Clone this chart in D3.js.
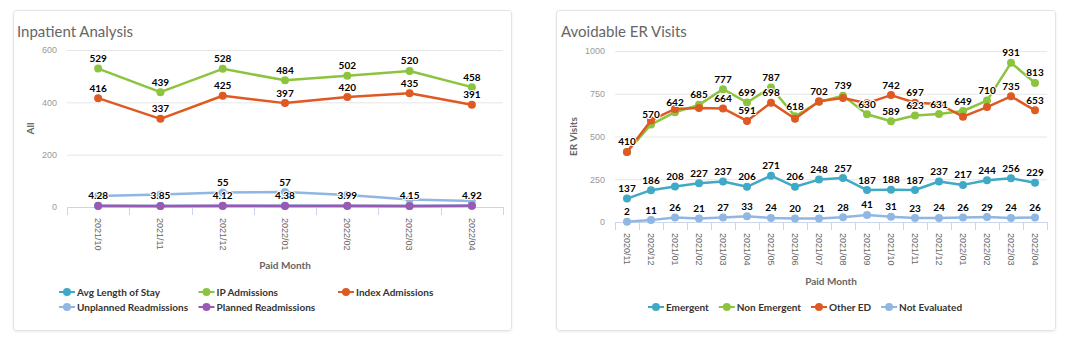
<!DOCTYPE html>
<html lang="en">
<head>
<meta charset="utf-8">
<title>Inpatient Analysis / Avoidable ER Visits</title>
<script src="https://cdnjs.cloudflare.com/ajax/libs/d3/7.8.5/d3.min.js"></script>
<style>
  body { margin: 0; background: #fff; }
  svg { display: block; font-family: "Lato", "Open Sans", sans-serif; }
  .title { font-size: 15px; fill: #666; }
  .tick text { font-size: 9px; fill: #999; }
  .tick text.xlab { font-size: 9px; fill: #666; }
  .axis-title { font-size: 10px; font-weight: bold; fill: #666; }
  .legend text { font-size: 10px; font-weight: bold; fill: #333; }
  .dl { font-size: 10px; font-weight: bold; fill: #000; stroke: #fff; stroke-width: 2px; paint-order: stroke; stroke-linejoin: round; }
</style>
</head>
<body>
<svg id="chart" width="1088" height="343"></svg>
<script>
// ---- Inpatient Analysis data ----
var ipMonths = ["2021/10", "2021/11", "2021/12", "2022/01", "2022/02", "2022/03", "2022/04"];
var avgLengthOfStay = [4.28, 3.85, 4.12, 4.38, 3.99, 4.15, 4.92];
var ipAdmissions = [529, 439, 528, 484, 502, 520, 458];
var indexAdmissions = [416, 337, 425, 397, 420, 435, 391];
var unplannedReadmissions = [42, 48, 55, 57, 46, 29, 23];
var plannedReadmissions = [5, 4, 5, 4, 5, 4, 5];
var ipTicks = [0, 200, 400, 600];

// ---- Avoidable ER Visits data ----
var erMonths = ["2020/11", "2020/12", "2021/01", "2021/02", "2021/03", "2021/04", "2021/05", "2021/06", "2021/07",
                "2021/08", "2021/09", "2021/10", "2021/11", "2021/12", "2022/01", "2022/02", "2022/03", "2022/04"];
var emergent = [137, 186, 208, 227, 237, 206, 271, 206, 248, 257, 187, 188, 187, 237, 217, 244, 256, 229];
var nonEmergent = [410, 570, 642, 685, 777, 699, 787, 618, 702, 739, 630, 589, 623, 631, 649, 710, 931, 813];
var otherED = [410, 594, 661, 667, 664, 591, 698, 604, 706, 725, 695, 742, 697, 690, 616, 672, 735, 653];
var notEvaluated = [2, 11, 26, 21, 27, 33, 24, 20, 21, 28, 41, 31, 23, 24, 26, 29, 24, 26];
var erTicks = [0, 250, 500, 750, 1000];

var teal = "#3fa9c6", green = "#8cc43f", orange = "#de5a22", lightBlue = "#90b6e2", purple = "#9b59b6";

var svg = d3.select("#chart");

var defs = svg.append("defs");
var f = defs.append("filter").attr("id", "shadow").attr("x", "-5%").attr("y", "-5%").attr("width", "110%").attr("height", "115%");
f.append("feDropShadow").attr("dx", 0).attr("dy", 1).attr("stdDeviation", 1).attr("flood-color", "#000").attr("flood-opacity", 0.08);

function card(x, y, w, h) {
    svg.append("rect").attr("x", x + 0.5).attr("y", y + 0.5).attr("width", w).attr("height", h)
        .attr("rx", 3).attr("fill", "#fff").attr("stroke", "#e3e3e3").attr("filter", "url(#shadow)");
}

function drawChart(c) {
    var g = svg.append("g");

    g.append("text").attr("class", "title").attr("x", c.titleX).attr("y", 37).text(c.title);

    var x = d3.scaleBand().domain(c.months).range([c.left, c.right]);
    var y = d3.scaleLinear().domain([0, c.ticks[c.ticks.length - 1]]).range([c.bottom, c.top]);

    // y grid + labels
    var yAxis = g.append("g").attr("transform", "translate(" + c.left + ",0)")
        .call(d3.axisLeft(y).tickValues(c.ticks).tickFormat(d3.format("d")).tickSize(-(c.right - c.left)).tickPadding(10));
    yAxis.select(".domain").remove();
    yAxis.selectAll(".tick line").attr("stroke", "#e6e6e6");
    yAxis.selectAll(".tick text").attr("font-family", null).attr("font-size", null);

    // x axis line and ticks on band edges
    g.append("line").attr("x1", c.left).attr("x2", c.right).attr("y1", c.bottom + 0.5).attr("y2", c.bottom + 0.5)
        .attr("stroke", "#ccd6eb");
    var edges = c.months.map(function(m) { return x(m); }).concat([c.right]);
    g.selectAll("line.edge").data(edges).enter().append("line")
        .attr("x1", function(d) { return Math.round(d) + 0.5; }).attr("x2", function(d) { return Math.round(d) + 0.5; })
        .attr("y1", c.bottom).attr("y2", c.bottom + 8).attr("stroke", "#ccd6eb");

    // rotated month labels
    var xAxis = g.append("g").attr("transform", "translate(0," + c.bottom + ")")
        .call(d3.axisBottom(x).tickSize(0));
    xAxis.select(".domain").remove();
    xAxis.selectAll(".tick text")
        .attr("class", "xlab").attr("font-family", null).attr("font-size", null)
        .attr("transform", "rotate(90)").attr("text-anchor", "start")
        .attr("x", 11).attr("y", 0).attr("dy", "0.35em");

    g.append("text").attr("class", "axis-title").attr("text-anchor", "middle")
        .attr("x", (c.left + c.right) / 2).attr("y", c.xTitleY).text("Paid Month");
    g.append("text").attr("class", "axis-title").attr("text-anchor", "middle")
        .attr("transform", "translate(" + c.yTitleX + "," + ((c.top + c.bottom) / 2) + ") rotate(-90)")
        .attr("dy", "0.35em").text(c.yTitle);

    var cx = function(i) { return x(c.months[i]) + x.bandwidth() / 2; };
    var line = d3.line().x(function(d, i) { return cx(i); }).y(function(d) { return y(d); });

    var lines = g.append("g");
    c.series.forEach(function(s) {
        var sg = lines.append("g");
        sg.append("path").datum(s.values).attr("d", line).attr("fill", "none")
            .attr("stroke", s.color).attr("stroke-width", 2.5).attr("stroke-linejoin", "round");
        sg.selectAll("circle").data(s.values).enter().append("circle")
            .attr("cx", function(d, i) { return cx(i); }).attr("cy", function(d) { return y(d); })
            .attr("r", 4).attr("fill", s.color);
    });

    // data labels, hide the ones that collide with earlier ones
    var labels = g.append("g");
    var placed = [];
    c.series.forEach(function(s) {
        s.values.forEach(function(v, i) {
            var px = cx(i), py = y(v);
            var t = labels.append("text").attr("class", "dl").attr("text-anchor", "middle")
                .attr("x", px).attr("y", py - 6.5).text(String(v));
            var box = { x: px, y: py - 10, w: t.node().getComputedTextLength() };
            var hit = placed.some(function(b) {
                return Math.abs(b.x - box.x) < (b.w + box.w) / 2 && Math.abs(b.y - box.y) < 12;
            });
            if (hit) t.remove(); else placed.push(box);
        });
    });
    return g;
}

function legendItem(parent, x, y, s) {
    var it = parent.append("g").attr("transform", "translate(" + x + "," + y + ")");
    it.append("line").attr("x1", 0).attr("x2", 16).attr("stroke", s.color).attr("stroke-width", 2);
    it.append("circle").attr("cx", 8).attr("r", 4).attr("fill", s.color);
    var t = it.append("text").attr("x", 18).attr("dy", "0.35em").text(s.name);
    return 18 + t.node().getComputedTextLength();
}

// ---- left card ----
card(13, 10, 498, 320);
var ipSeries = [
    { name: "Avg Length of Stay", values: avgLengthOfStay, color: teal },
    { name: "IP Admissions", values: ipAdmissions, color: green },
    { name: "Index Admissions", values: indexAdmissions, color: orange },
    { name: "Unplanned Readmissions", values: unplannedReadmissions, color: lightBlue },
    { name: "Planned Readmissions", values: plannedReadmissions, color: purple }
];
drawChart({
    title: "Inpatient Analysis", titleX: 17, months: ipMonths, series: ipSeries, ticks: ipTicks,
    left: 67, right: 503, top: 50, bottom: 207, yTitle: "All", yTitleX: 30, xTitleY: 268.5
});
var lg1 = svg.append("g").attr("class", "legend");
ipSeries.forEach(function(s, i) {
    legendItem(lg1, 59 + (i % 3) * 139.5, 292 + Math.floor(i / 3) * 15, s);
});

// ---- right card ----
card(556, 10, 499, 320);
var erSeries = [
    { name: "Emergent", values: emergent, color: teal },
    { name: "Non Emergent", values: nonEmergent, color: green },
    { name: "Other ED", values: otherED, color: orange },
    { name: "Not Evaluated", values: notEvaluated, color: lightBlue }
];
drawChart({
    title: "Avoidable ER Visits", titleX: 561, months: erMonths, series: erSeries, ticks: erTicks,
    left: 615, right: 1047, top: 51, bottom: 222, yTitle: "ER Visits", yTitleX: 573, xTitleY: 284.5
});
var lg2 = svg.append("g").attr("class", "legend");
var lx = 0;
erSeries.forEach(function(s) {
    var w = legendItem(lg2, lx, 307, s);
    lx += w + 10;
});
lg2.attr("transform", "translate(" + (805 - (lx - 10) / 2) + ",0)");
</script>
</body>
</html>
